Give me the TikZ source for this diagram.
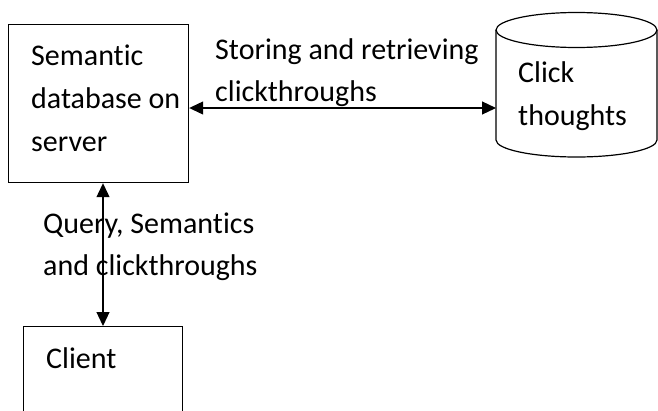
\documentclass[tikz,border=0pt]{standalone}
\usepackage{fontspec}
\setmainfont{Carlito}[Ligatures={NoCommon}]
\usetikzlibrary{arrows.meta}
\tikzset{
  box/.style={draw, line width=1.2pt, inner sep=0pt, anchor=north west},
  txt/.style={anchor=base west, inner sep=0pt, font=\fontsize{30}{43}\selectfont},
  link/.style={line width=1.2pt, {Triangle[length=14pt,width=13pt]}-{Triangle[length=14pt,width=13pt]}}
}
\begin{document}
\begin{tikzpicture}[x=1pt,y=-1pt]
\useasboundingbox (0,0) rectangle (658,410);
% server box
\node[box, minimum width=180pt, minimum height=158pt] (server) at (8,24) {};
\node[txt] (s1) at (31,65) {Semantic};
\node[txt] (s2) at (31,108) {database on};
\node[txt] (s3) at (31,151) {server};
% client box (bottom cut off)
\node[box, minimum width=159pt, minimum height=120pt] (client) at (23,326) {};
\node[txt] (c1) at (46,368) {Client};
% cylinder
\draw[line width=1.2pt] (496,30) -- (496,140) arc (180:0:80.5 and 17) -- (657,30);
\draw[line width=1.2pt] (576.5,30) ellipse (80.5 and 17.5);
\coordinate (cyl) at (496,108);
\node[txt] (k1) at (518,82) {Click};
\node[txt] (k2) at (518,125) {thoughts};
% connectors
\draw[link] (server.east |- cyl) -- (cyl);
\coordinate (vx) at (103,0);
\draw[link] (vx |- server.south) -- (vx |- client.north);
% labels
\node[txt] (l1) at (215,59) {Storing and retrieving};
\node[txt] (l2) at (215,101) {clickthroughs};
\node[txt] (q1) at (43,233) {Query, Semantics};
\node[txt] (q2) at (43,275) {and clickthroughs};
\end{tikzpicture}
\end{document}
